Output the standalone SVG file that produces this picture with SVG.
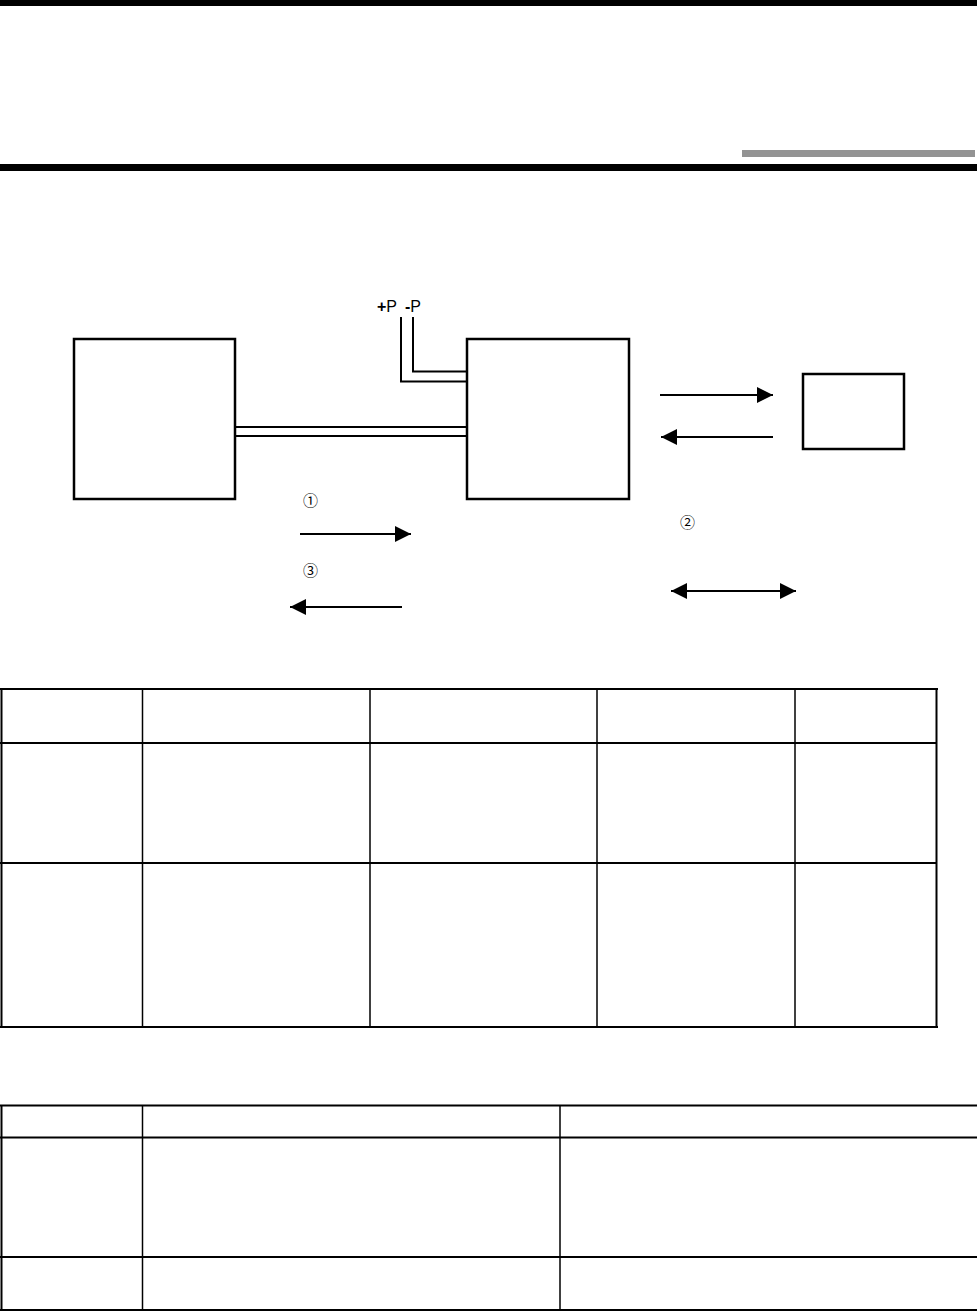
<svg xmlns="http://www.w3.org/2000/svg" width="977" height="1312" viewBox="0 0 977 1312">
<style>
.box{fill:none;stroke:#000;stroke-width:2.5}
.ln{fill:none;stroke:#000;stroke-width:2}
.tb{fill:none;stroke:#000;stroke-width:2}
.tbt{fill:none;stroke:#000;stroke-width:1.5}
.t{font-family:"Liberation Sans","DejaVu Sans",sans-serif;font-size:16px;fill:#000}
.c{font-family:"Noto Sans CJK JP","DejaVu Sans",sans-serif;font-size:15px;fill:#000}
</style>
<defs>
<marker id="ah" viewBox="0 0 10 10" refX="10" refY="5" markerWidth="16" markerHeight="16" markerUnits="userSpaceOnUse" orient="auto-start-reverse"><path d="M0,0 L10,5 L0,10 Z" fill="#000"/></marker>
</defs>
<rect width="977" height="1312" fill="#fff"/>
<g id="header">
<rect x="0" y="0" width="977" height="6" fill="#000"/>
<rect x="742" y="150" width="233" height="7" fill="#939393"/>
<rect x="0" y="164" width="977" height="7" fill="#000"/>
</g>
<g id="node-left"><rect class="box" x="74" y="339" width="161" height="160"/></g>
<g id="node-mid"><rect class="box" x="467" y="339" width="162" height="160"/></g>
<g id="node-right"><rect class="box" x="803" y="374" width="101" height="75"/></g>
<g id="labels">
<text class="t" x="377" y="312"><tspan font-weight="bold">+</tspan>P</text>
<text class="t" x="405" y="312"><tspan font-weight="bold">-</tspan>P</text>
<text class="c" x="303" y="506">①</text>
<text class="c" x="303" y="576">③</text>
<text class="c" x="680" y="528">②</text>
</g>
<g id="connectors">
<line class="ln" x1="235" y1="427" x2="467" y2="427"/>
<line class="ln" x1="235" y1="436" x2="467" y2="436"/>
<polyline class="ln" points="401,317 401,381.5 467,381.5"/>
<polyline class="ln" points="413,317 413,371.5 467,371.5"/>
<line class="ln" x1="660" y1="395" x2="773" y2="395" marker-end="url(#ah)"/>
<line class="ln" x1="773" y1="437" x2="661" y2="437" marker-end="url(#ah)"/>
<line class="ln" x1="300" y1="534" x2="411" y2="534" marker-end="url(#ah)"/>
<line class="ln" x1="402" y1="607" x2="290" y2="607" marker-end="url(#ah)"/>
<line class="ln" x1="671" y1="591" x2="796" y2="591" marker-start="url(#ah)" marker-end="url(#ah)"/>
</g>
<g id="table1">
<line class="tb" x1="0" y1="689" x2="938" y2="689" stroke-width="3"/>
<line class="tb" x1="0" y1="743" x2="937" y2="743"/>
<line class="tb" x1="0" y1="863" x2="937" y2="863"/>
<line class="tb" x1="0" y1="1027" x2="938" y2="1027" stroke-width="2.5"/>
<line class="tb" x1="1.5" y1="688" x2="1.5" y2="1028" stroke-width="3"/>
<line class="tbt" x1="142.5" y1="689" x2="142.5" y2="1027"/>
<line class="tbt" x1="370" y1="689" x2="370" y2="1027"/>
<line class="tbt" x1="597" y1="689" x2="597" y2="1027" stroke-width="1"/>
<line class="tbt" x1="795" y1="689" x2="795" y2="1027"/>
<line class="tb" x1="936.5" y1="688" x2="936.5" y2="1028" stroke-width="3"/>
</g>
<g id="table2">
<line class="tb" x1="0" y1="1105.5" x2="977" y2="1105.5"/>
<line class="tb" x1="0" y1="1137.5" x2="977" y2="1137.5"/>
<line class="tb" x1="0" y1="1257" x2="977" y2="1257"/>
<line class="tb" x1="0" y1="1310" x2="977" y2="1310" stroke-width="3"/>
<line class="tb" x1="1.5" y1="1105" x2="1.5" y2="1311" stroke-width="3"/>
<line class="tbt" x1="142.5" y1="1105" x2="142.5" y2="1311"/>
<line class="tbt" x1="560" y1="1105" x2="560" y2="1311"/>
</g>
</svg>
